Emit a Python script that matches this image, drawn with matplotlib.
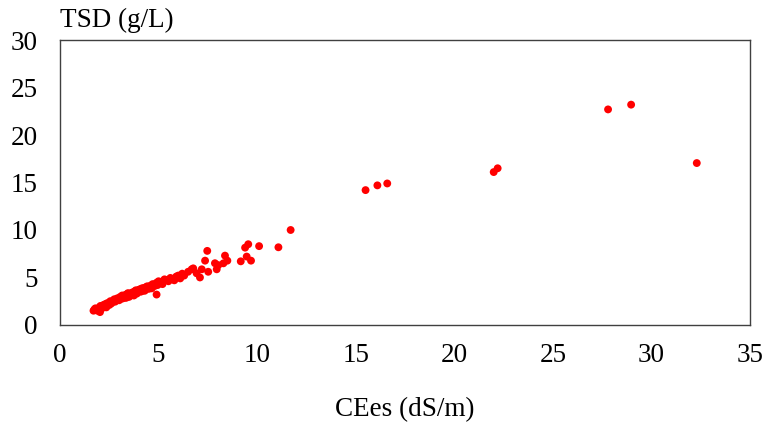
import matplotlib
matplotlib.use("Agg")
import matplotlib.pyplot as plt

# CEes (dS/m) vs TSD (g/L)
cees = [1.7, 1.75, 1.8, 1.9, 2.0, 2.03, 2.05, 2.1, 2.2, 2.3, 2.35, 2.4, 2.5, 2.55,
        2.6, 2.7, 2.75, 2.8, 2.9, 3.0, 3.05, 3.1, 3.15, 3.2, 3.3, 3.35, 3.4, 3.45,
        3.5, 3.6, 3.7, 3.75, 3.8, 3.85, 3.9, 4.0, 4.1, 4.15, 4.2, 4.25, 4.3, 4.4,
        4.5, 4.6, 4.65, 4.7, 4.8, 4.9, 4.9, 4.95, 5.0, 5.1, 5.2, 5.3, 5.35, 5.5,
        5.7, 5.8, 5.9, 6.0, 6.1, 6.2, 6.3, 6.5, 6.68, 6.76, 6.93, 7.1, 7.19,
        7.36, 7.47, 7.52, 7.86, 7.95, 8.03, 8.29, 8.37, 8.49, 9.17, 9.39, 9.47,
        9.55, 9.69, 10.1, 11.08, 11.7, 15.5, 16.1, 16.6, 22.0, 22.2, 27.8, 28.97,
        32.3, 2.2, 2.65, 3.25, 3.6, 4.05, 4.45, 5.15, 5.6]
tsd = [1.5, 1.65, 1.75, 1.5, 1.85, 1.35, 2.0, 1.7, 2.1, 2.2, 1.85, 2.3, 2.1, 2.5,
       2.25, 2.55, 2.7, 2.45, 2.8, 2.6, 2.95, 2.75, 3.1, 2.8, 3.15, 2.85, 3.25, 3.35,
       2.95, 3.35, 3.45, 3.1, 3.55, 3.65, 3.3, 3.7, 3.5, 3.85, 3.6, 3.9, 3.6, 4.05,
       3.8, 4.15, 3.85, 4.3, 4.1, 4.45, 3.2, 4.2, 4.6, 4.5, 4.3, 4.8, 4.75, 4.6,
       4.8, 4.7, 5.1, 5.2, 4.9, 5.4, 5.2, 5.6, 5.86, 5.96, 5.44, 5.0, 5.86,
       6.77, 7.8, 5.6, 6.5, 5.86, 6.3, 6.49, 7.3, 6.77, 6.7, 8.14, 7.2,
       8.5, 6.77, 8.3, 8.18, 10.0, 14.2, 14.7, 14.9, 16.1, 16.5, 22.7, 23.2,
       17.05, 1.85, 2.4, 3.0, 3.1, 3.75, 4.05, 4.55, 4.95]

plt.rcParams['font.family'] = ['Liberation Serif', 'DejaVu Serif']

fig = plt.figure(figsize=(7.65, 4.22), dpi=100)
ax = fig.add_axes([0.0784, 0.230, 0.902, 0.675])

ax.scatter(cees, tsd, s=32, color='#ff0000', edgecolors='none', zorder=3)

ax.set_xlim(0, 35)
ax.set_ylim(0, 30)
ax.set_xticks(range(0, 36, 5))
ax.set_yticks(range(0, 31, 5))
ax.tick_params(axis='both', length=0, labelsize=19.5, colors='black')
ax.tick_params(axis='x', pad=13)
ax.tick_params(axis='y', pad=16)
for sp in ax.spines.values():
    sp.set_color('#404040')
    sp.set_linewidth(1.0)

ax.set_xlabel('CEes (dS/m)', fontsize=19.5, labelpad=21)
fig.text(0.078, 0.952, 'TSD (g/L)', fontsize=19.5, ha='left', va='center')

fig.savefig('out.png', dpi=100)
